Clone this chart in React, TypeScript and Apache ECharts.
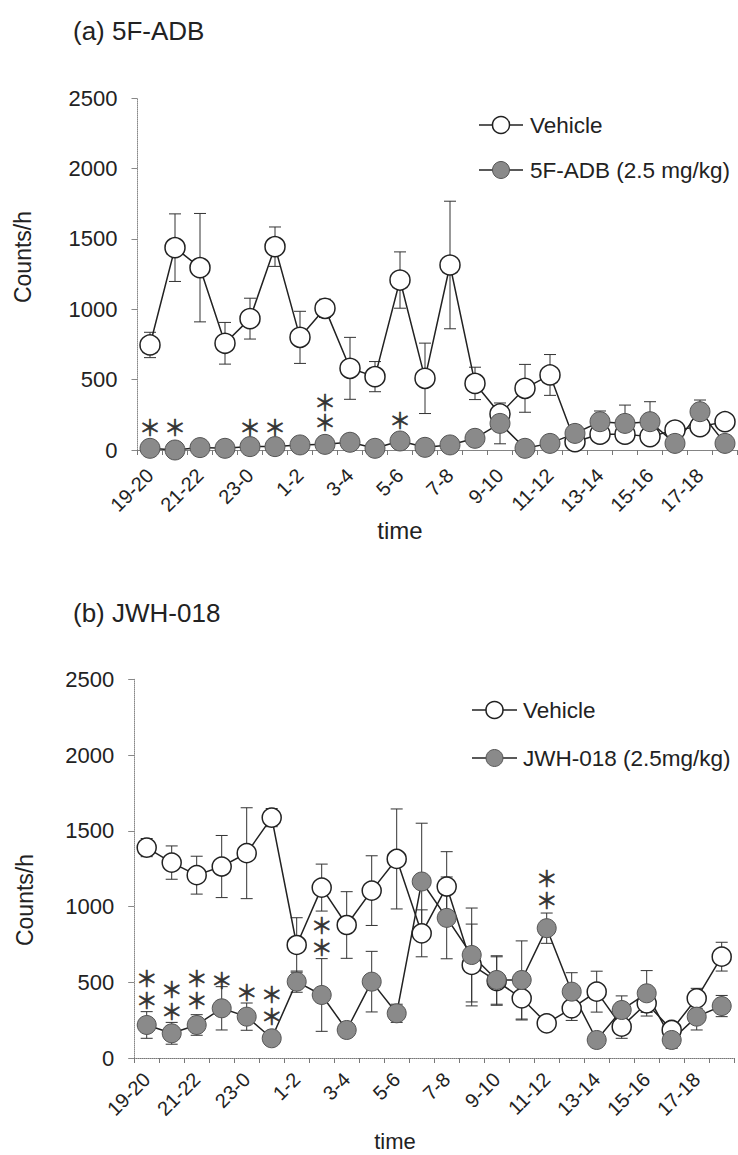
import React, { useEffect, useRef } from 'react';
import * as echarts from 'echarts';

const hours = ['19-20','20-21','21-22','22-23','23-0','0-1','1-2','2-3','3-4','4-5','5-6','6-7','7-8','8-9','9-10','10-11','11-12','12-13','13-14','14-15','15-16','16-17','17-18','18-19'];

// Panel (a) 5F-ADB
const vehA = [746, 1437, 1295, 758, 933, 1444, 800, 1006, 580, 521, 1207, 509, 1314, 473, 256, 438, 533, 59, 112, 112, 95, 142, 166, 201];
const vehAErr = [90, 240, 385, 148, 145, 140, 185, 65, 220, 107, 200, 250, 453, 115, 60, 170, 145, 30, 40, 40, 30, 50, 40, 30];
const adbA = [12, 0, 17, 12, 24, 24, 36, 40, 55, 12, 64, 19, 36, 83, 189, 12, 47, 118, 201, 189, 201, 47, 272, 47];
const adbAErr = [10, 5, 8, 8, 10, 10, 10, 15, 15, 10, 20, 10, 15, 25, 145, 10, 15, 40, 76, 130, 142, 30, 83, 20];
// [category index, centre value, number of asterisks]
const starsA = [[0, 178, 1], [1, 178, 1], [4, 178, 1], [5, 178, 1], [7, 287, 2], [10, 225, 1]];

// Panel (b) JWH-018
const vehB = [1389, 1290, 1207, 1264, 1352, 1587, 746, 1125, 878, 1105, 1314, 823, 1132, 614, 508, 394, 229, 328, 438, 207, 361, 185, 394, 669];
const vehBErr = [60, 110, 125, 205, 300, 60, 180, 155, 220, 230, 330, 155, 230, 270, 160, 143, 40, 80, 135, 77, 60, 30, 66, 95];
const jwhB = [218, 163, 218, 328, 273, 130, 504, 416, 185, 504, 295, 1165, 925, 680, 515, 515, 857, 438, 119, 317, 427, 119, 273, 343];
const jwhBErr = [88, 72, 68, 143, 90, 25, 70, 240, 35, 200, 60, 385, 270, 310, 160, 258, 100, 125, 40, 93, 150, 55, 88, 70];
const starsB = [[0, 472, 2], [1, 396, 2], [2, 469, 2], [3, 526, 1], [4, 449, 1], [5, 366, 2], [7, 819, 2], [16, 1126, 2]];

const FONT = 'Liberation Sans, Arial, sans-serif';
const INK = '#222';

const errData = (m: number[], e: number[]) => m.map((v, i) => [i, Math.max(0, v - e[i]), v + e[i]]);

const errRender = (params: any, api: any) => {
  const i = api.value(0);
  const lo = api.coord([i, api.value(1)]);
  const hi = api.coord([i, api.value(2)]);
  const w = 6;
  const style = { stroke: '#333', lineWidth: 1, fill: 'none' };
  return {
    type: 'group',
    children: [
      { type: 'line', shape: { x1: lo[0], y1: lo[1], x2: hi[0], y2: hi[1] }, style },
      { type: 'line', shape: { x1: hi[0] - w, y1: hi[1], x2: hi[0] + w, y2: hi[1] }, style },
      { type: 'line', shape: { x1: lo[0] - w, y1: lo[1], x2: lo[0] + w, y2: lo[1] }, style },
    ],
  };
};

const starRender = (lh: number) => (params: any, api: any) => {
  const p = api.coord([api.value(0), api.value(1)]);
  const n = api.value(2);
  return {
    type: 'text',
    x: p[0],
    y: p[1],
    style: {
      text: n === 2 ? '＊\n＊' : '＊',
      fontSize: 22,
      lineHeight: lh,
      fontFamily: 'Noto Sans CJK JP',
      fill: '#333',
      stroke: '#333',
      lineWidth: 0.6,
      align: 'center',
      verticalAlign: 'middle',
    },
  };
};

const xAxisCfg = (gridIndex: number, margin: number) => ({
  type: 'category',
  gridIndex,
  data: hours,
  boundaryGap: true,
  axisLine: { show: true, lineStyle: { color: '#777', type: 'dotted', width: 1 } },
  axisTick: { show: true, interval: 0, length: 5, lineStyle: { color: '#777' } },
  axisLabel: { interval: 1, rotate: 45, fontSize: 20, margin, color: INK, fontFamily: FONT },
});

const yAxisCfg = (gridIndex: number) => ({
  type: 'value',
  gridIndex,
  min: 0,
  max: 2500,
  interval: 500,
  axisLine: { show: true, lineStyle: { color: '#888', type: 'dotted', width: 1 } },
  axisTick: { show: true, length: 6, lineStyle: { color: '#888' } },
  splitLine: { show: false },
  axisLabel: { fontSize: 22, margin: 20, color: INK, fontFamily: FONT, formatter: (v: number) => String(v) },
});

const lineSeries = (name: string, data: number[], idx: number, filled: boolean, size: number) => ({
  type: 'line',
  name,
  xAxisIndex: idx,
  yAxisIndex: idx,
  data,
  symbol: 'circle',
  symbolSize: size,
  showAllSymbol: true,
  z: 3,
  lineStyle: { color: INK, width: 1.5 },
  itemStyle: filled
    ? { color: '#8a8a8a', borderColor: '#555', borderWidth: 1 }
    : { color: '#fff', borderColor: INK, borderWidth: 1.5 },
});

const errSeries = (data: number[][], idx: number) => ({
  type: 'custom',
  xAxisIndex: idx,
  yAxisIndex: idx,
  data,
  z: 1,
  colorBy: 'series',
  itemStyle: { color: '#333' },
  encode: { x: 0, y: [1, 2] },
  renderItem: errRender,
});

const starSeries = (data: number[][], idx: number, lh: number) => ({
  type: 'custom',
  xAxisIndex: idx,
  yAxisIndex: idx,
  data,
  z: 4,
  colorBy: 'series',
  itemStyle: { color: '#333' },
  encode: { x: 0, y: 1 },
  renderItem: starRender(lh),
});

const legendItem = (x1: number, x2: number, y: number, tx: number, label: string, filled: boolean) => ({
  type: 'group',
  children: [
    { type: 'line', shape: { x1, y1: y, x2, y2: y }, style: { stroke: INK, lineWidth: 1.5 } },
    {
      type: 'circle',
      shape: { cx: (x1 + x2) / 2, cy: y, r: 8.5 },
      style: filled ? { fill: '#8a8a8a', stroke: '#555', lineWidth: 1 } : { fill: '#fff', stroke: INK, lineWidth: 1.5 },
    },
    { type: 'text', x: tx, y, style: { text: label, fontSize: 22.5, fontFamily: FONT, fill: INK, align: 'left', verticalAlign: 'middle' } },
  ],
});

const txt = (x: number, y: number, text: string, size: number, rotation = 0, align = 'left') => ({
  type: 'text',
  x,
  y,
  rotation,
  style: { text, fontSize: size, fontFamily: FONT, fill: INK, align, verticalAlign: 'middle' },
});

export default function App() {
  const ref = useRef<HTMLDivElement>(null);
  useEffect(() => {
    if (!ref.current) return;
    const chart = echarts.init(ref.current, undefined, { renderer: 'svg' });
    chart.setOption({
      animation: false,
      backgroundColor: '#fff',
      grid: [
        { left: 137.5, top: 98, width: 600, height: 352 },
        { left: 134.2, top: 679.3, width: 600, height: 378.7 },
      ],
      xAxis: [xAxisCfg(0, 22), xAxisCfg(1, 18)],
      yAxis: [yAxisCfg(0), yAxisCfg(1)],
      series: [
        errSeries(errData(vehA, vehAErr), 0),
        errSeries(errData(adbA, adbAErr), 0),
        lineSeries('Vehicle', vehA, 0, false, 20),
        lineSeries('5F-ADB (2.5 mg/kg)', adbA, 0, true, 20),
        starSeries(starsA, 0, 20),
        errSeries(errData(vehB, vehBErr), 1),
        errSeries(errData(jwhB, jwhBErr), 1),
        lineSeries('Vehicle', vehB, 1, false, 19),
        lineSeries('JWH-018 (2.5mg/kg)', jwhB, 1, true, 19),
        starSeries(starsB, 1, 22),
      ],
      graphic: [
        txt(73, 31, '(a) 5F-ADB', 26),
        txt(73, 613, '(b) JWH-018', 26),
        txt(23, 257, 'Counts/h', 23, Math.PI / 2, 'center'),
        txt(25, 900, 'Counts/h', 23, Math.PI / 2, 'center'),
        txt(400, 530, 'time', 24, 0, 'center'),
        txt(395, 1141, 'time', 22, 0, 'center'),
        legendItem(479, 523, 125, 530, 'Vehicle', false),
        legendItem(479, 523, 170, 530, '5F-ADB (2.5 mg/kg)', true),
        legendItem(472, 517, 710, 523, 'Vehicle', false),
        legendItem(472, 517, 758, 523, 'JWH-018 (2.5mg/kg)', true),
      ],
    });
    return () => chart.dispose();
  }, []);
  return <div ref={ref} style={{ position: 'absolute', left: 0, top: 0, width: 738, height: 1155 }} />;
}
